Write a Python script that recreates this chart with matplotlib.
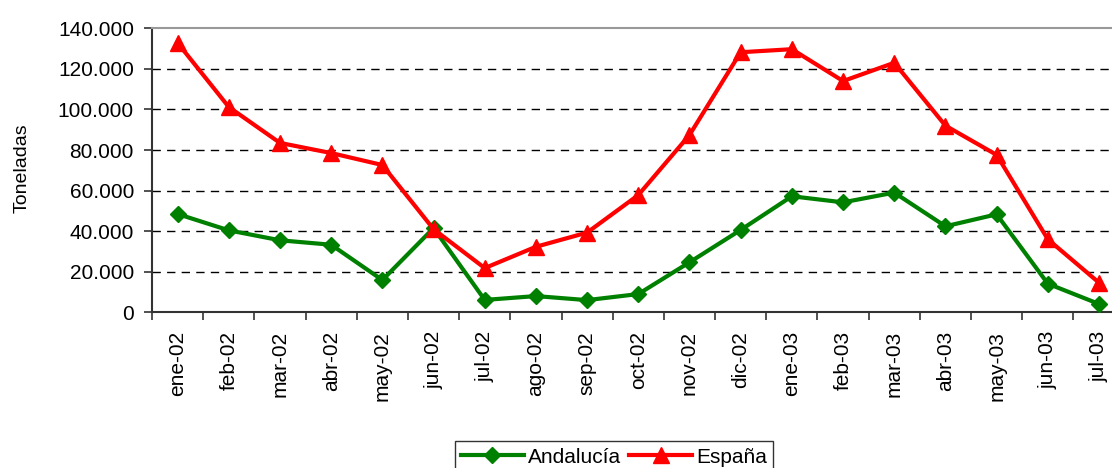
import matplotlib
matplotlib.use("Agg")
import matplotlib.pyplot as plt
from matplotlib.ticker import FuncFormatter, FixedLocator

categories = ["ene-02", "feb-02", "mar-02", "abr-02", "may-02", "jun-02", "jul-02",
              "ago-02", "sep-02", "oct-02", "nov-02", "dic-02", "ene-03", "feb-03",
              "mar-03", "abr-03", "may-03", "jun-03", "jul-03"]
andalucia = [48450, 40400, 35500, 33300, 15900, 41500, 6100, 8000, 6000, 9000,
             24650, 40600, 57200, 54200, 59000, 42400, 48300, 14100, 4100]
espana = [132800, 101200, 83500, 78500, 72600, 41000, 21800, 32300, 39300, 57800,
          87400, 128200, 129700, 114000, 123000, 92000, 77600, 36000, 14600]
y_ticks = [0, 20000, 40000, 60000, 80000, 100000, 120000, 140000]

plt.rcParams['font.family'] = ['Liberation Sans', 'DejaVu Sans']

W, H = 1112, 468
fig = plt.figure(figsize=(W / 100, H / 100), dpi=100)
left, right, top, bottom = 152, 1124.6, 28.3, 312.3
ax = fig.add_axes([left / W, 1 - bottom / H, (right - left) / W, (bottom - top) / H])

x = list(range(len(categories)))
ax.plot(x, andalucia, color="#008000", lw=3, marker="D", markersize=8.5,
        label="Andalucía", clip_on=False, zorder=3)
ax.plot(x, espana, color="#FF0000", lw=3, marker="^", markersize=11,
        label="España", clip_on=False, zorder=4)

ax.set_xlim(-0.5, len(categories) - 0.5)
ax.set_ylim(0, 140000)
ax.yaxis.set_major_locator(FixedLocator(y_ticks))
ax.yaxis.set_major_formatter(FuncFormatter(lambda v, p: f"{int(v):,}".replace(",", ".")))
for v in y_ticks[1:-1]:
    ax.axhline(v, color="black", lw=1, ls=(0, (6, 4.5)), zorder=1)

ax.set_xticks(x)
ax.set_xticklabels(categories, rotation=90, fontsize=15)
ax.set_xticks([i - 0.5 for i in range(len(categories) + 1)], minor=True)
ax.tick_params(axis="x", which="major", length=0, pad=13.5)
ax.tick_params(axis="x", which="minor", length=6, width=1.2, color="#333333", direction="out")
ax.tick_params(axis="y", length=6, width=1.2, color="#333333", labelsize=15, pad=7)

ax.spines["top"].set_color("#999999")
ax.spines["top"].set_linewidth(1.5)
ax.spines["right"].set_visible(False)
ax.spines["left"].set_color("#333333")
ax.spines["left"].set_linewidth(1.5)
ax.spines["bottom"].set_color("#333333")
ax.spines["bottom"].set_linewidth(1.5)

fig.text(22 / W, 1 - 168 / H, "Toneladas", rotation=90, fontsize=14,
         ha="center", va="center")

leg = fig.legend(loc="upper center", bbox_to_anchor=(614 / W, 1 - 431 / H),
                 ncol=2, fontsize=15, frameon=True, fancybox=False,
                 edgecolor="black", handlelength=3, handletextpad=0.2,
                 columnspacing=0.4, borderpad=0.3)
leg.get_frame().set_linewidth(1)

fig.savefig("out.png", dpi=100)
